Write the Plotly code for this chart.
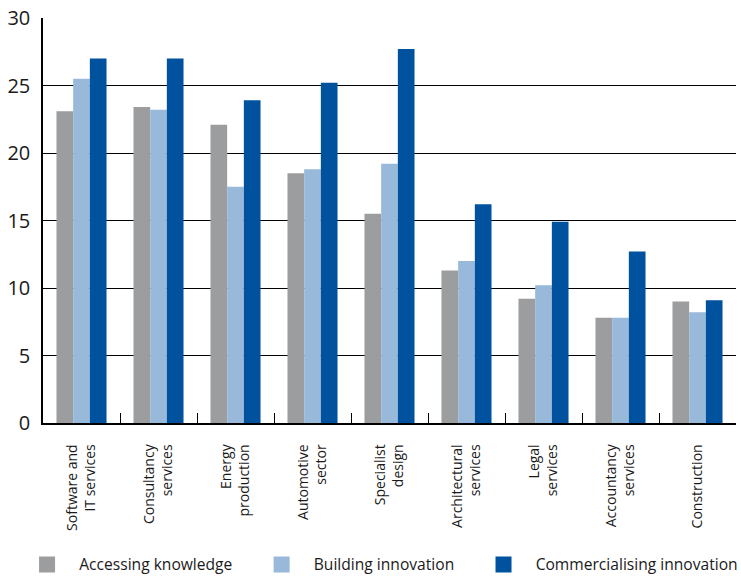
import plotly.graph_objects as go

categories = ["Software and<br>IT services", "Consultancy<br>services", "Energy<br>production",
              "Automotive<br>sector", "Specialist<br>design", "Architectural<br>services",
              "Legal<br>services", "Accountancy<br>services", "Construction"]
accessing = [23.1, 23.4, 22.1, 18.5, 15.5, 11.3, 9.2, 7.8, 9.0]
building = [25.5, 23.2, 17.5, 18.8, 19.2, 12.0, 10.2, 7.8, 8.2]
commercialising = [27.0, 27.0, 23.9, 25.2, 27.7, 16.2, 14.9, 12.7, 9.1]
series_names = ["Accessing knowledge", "Building innovation", "Commercialising innovation"]
colors = ["#9c9d9f", "#99b9da", "#00529f"]
y_ticks = [0, 5, 10, 15, 20, 25, 30]

FONT = "Open Sans"
NB = "\u00a0"
fig = go.Figure()
for i, (name, vals, col) in enumerate(zip(series_names, [accessing, building, commercialising], colors)):
    fig.add_trace(go.Bar(x=categories, y=vals, name=name, marker_color=col,
                         marker_line_width=0, showlegend=False))
    trail = NB * 6 if i < 2 else ""
    fig.add_trace(go.Scatter(x=[None], y=[None], mode="markers",
                             name=NB * 3 + name + trail,
                             marker=dict(symbol="square", size=16, color=col)))

fig.update_layout(
    width=741, height=576,
    margin=dict(l=43, r=5, t=18, b=153, autoexpand=False),
    plot_bgcolor="white", paper_bgcolor="white",
    barmode="group", bargap=0.35, bargroupgap=0,
    font=dict(family=FONT, color="#1a1a1a"),
    legend=dict(orientation="h", x=-0.023, xanchor="left", y=-0.35, yanchor="middle",
                font=dict(size=15.6, family=FONT), itemclick=False),
)
fig.update_xaxes(showline=True, linecolor="black", linewidth=1.5, automargin=False,
                 tickson="boundaries", ticks="inside", ticklen=10, tickcolor="black",
                 tickangle=-90, tickfont=dict(size=14, family=FONT), ticklabelstandoff=14,
                 showgrid=False)
fig.update_yaxes(range=[0, 30], tickvals=y_ticks, showline=True, linecolor="black", linewidth=1.5,
                 automargin=False,
                 showgrid=True, gridcolor="black", gridwidth=1.2, zeroline=False,
                 ticks="", tickfont=dict(size=20, family=FONT), ticklabelstandoff=7)

fig.write_html("out.html", config={"displayModeBar": False},
               post_script="document.body.style.margin='0';document.body.style.padding='0';")
